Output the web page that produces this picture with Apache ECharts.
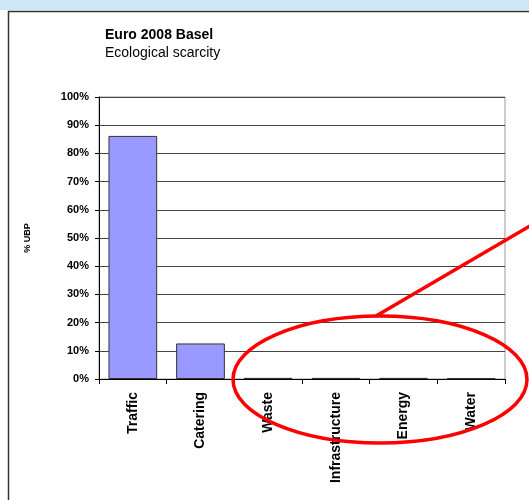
<!DOCTYPE html>
<html><head><meta charset="utf-8">
<script src="https://cdn.jsdelivr.net/npm/echarts@6/dist/echarts.min.js"></script>
<style>html,body{margin:0;padding:0;background:#fff}#c{width:529px;height:500px}</style>
</head><body><div id="c"></div>
<script>
const categories = ['Traffic', 'Catering', 'Waste', 'Infrastructure', 'Energy', 'Water'];
const values = [86.2, 12.6, 0.4, 0.4, 0.4, 0.25];
const yTicks = [0, 10, 20, 30, 40, 50, 60, 70, 80, 90, 100];

const chart = echarts.init(document.getElementById('c'));
const font = 'Liberation Sans, Arial, sans-serif';
chart.setOption({
  backgroundColor: '#fff',
  animation: false,
  title: {
    text: 'Euro 2008 Basel', subtext: 'Ecological scarcity',
    left: 100, top: 23, itemGap: 4,
    textStyle: {fontFamily: font, fontSize: 14, fontWeight: 'bold', color: '#000'},
    subtextStyle: {fontFamily: font, fontSize: 14, color: '#000'}
  },
  grid: {left: 99, right: 24, top: 97, bottom: 121, show: true, borderColor: '#999', borderWidth: 1},
  xAxis: {
    type: 'category', data: categories,
    axisLine: {lineStyle: {color: '#000', width: 1}},
    axisTick: {show: true, alignWithLabel: false, length: 5, lineStyle: {color: '#000'}},
    axisLabel: {rotate: 90, fontFamily: font, fontSize: 14, fontWeight: 'bold', color: '#000', margin: 13}
  },
  yAxis: {
    type: 'value', min: 0, max: 100, interval: 10,
    name: '% UBP', nameLocation: 'middle', nameGap: 67, nameRotate: 90,
    nameTextStyle: {fontFamily: font, fontSize: 9, fontWeight: 'bold', color: '#000'},
    axisLine: {show: true, lineStyle: {color: '#000'}},
    axisTick: {show: true, length: 4, lineStyle: {color: '#000'}},
    axisLabel: {formatter: v => yTicks.includes(v) ? v + '%' : '', fontFamily: font, fontSize: 11, fontWeight: 'bold', color: '#000', margin: 10},
    splitLine: {lineStyle: {color: '#444', width: 1}}
  },
  series: [{
    type: 'bar', data: values, barWidth: '72%',
    itemStyle: {color: '#9999ff', borderColor: '#333', borderWidth: 1}
  }],
  graphic: [
    {type: 'rect', shape: {x: 0, y: 0, width: 529, height: 10}, style: {fill: '#cce7f5'}, z: 100},
    {type: 'line', shape: {x1: 8.5, y1: 11, x2: 8.5, y2: 500}, style: {stroke: '#333', lineWidth: 1.5}, z: 100},
    {type: 'line', shape: {x1: 8, y1: 11.5, x2: 529, y2: 11.5}, style: {stroke: '#333', lineWidth: 1.5}, z: 100},
    {type: 'ellipse', shape: {cx: 380, cy: 379.5, rx: 147, ry: 63.5}, style: {fill: null, stroke: '#ff0000', lineWidth: 3.5}, z: 100},
    {type: 'line', shape: {x1: 376, y1: 316, x2: 530, y2: 226}, style: {stroke: '#ff0000', lineWidth: 3.5}, z: 100}
  ]
});
</script></body></html>
